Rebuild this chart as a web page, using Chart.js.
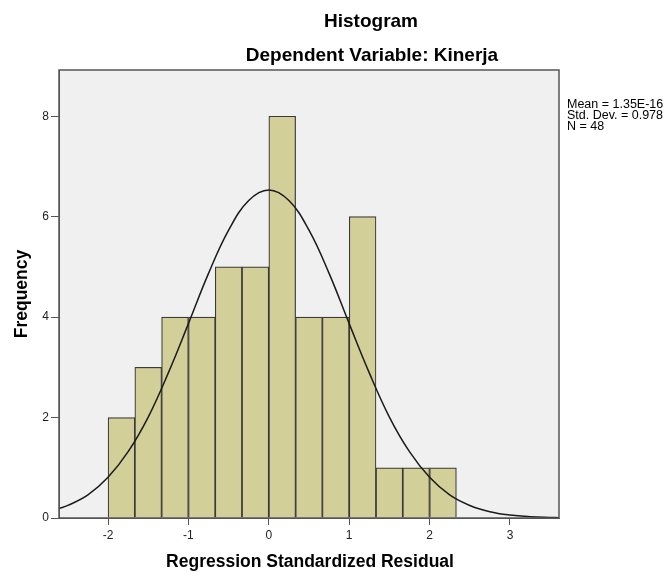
<!DOCTYPE html>
<html>
<head>
<meta charset="utf-8">
<script src="https://cdn.jsdelivr.net/npm/chart.js@4/dist/chart.umd.min.js"></script>
<style>
  html, body { margin: 0; padding: 0; background: #fff; }
  #wrap { width: 669px; height: 572px; }
</style>
</head>
<body>
<div id="wrap"><canvas id="histChart" width="669" height="572"></canvas></div>
<script>
// bins of width 1/3 starting at -2 (centres)
const binCenters = [-1.833, -1.5, -1.167, -0.833, -0.5, -0.167, 0.167, 0.5, 0.833, 1.167, 1.5, 1.833, 2.167];
const frequencies = [2, 3, 4, 4, 5, 5, 8, 4, 4, 6, 1, 1, 1];

// normal curve, values
const curveX = [-2.61, -2.5, -2.25, -2, -1.75, -1.5, -1.25, -1, -0.75, -0.5, -0.25, 0,
  0.25, 0.5, 0.75, 1, 1.25, 1.5, 1.75, 2, 2.25, 2.5, 2.75, 3, 3.25, 3.5, 3.61];
const curveY = [0.19, 0.25, 0.46, 0.81, 1.32, 2.01, 2.89, 3.87, 4.87, 5.73, 6.32, 6.53,
  6.32, 5.73, 4.87, 3.87, 2.89, 2.01, 1.32, 0.81, 0.46, 0.25, 0.125, 0.059, 0.026, 0.011, 0.007];

const xTicks = [-2, -1, 0, 1, 2, 3];
const yTicks = [0, 2, 4, 6, 8];
const statsLines = ["Mean = 1.35E-16", "Std. Dev. = 0.978", "N = 48"];

const FONT = "'Liberation Sans', Arial, sans-serif";

const spssFrame = {
  id: "spssFrame",
  beforeDraw(chart) {
    const a = chart.chartArea, c = chart.ctx;
    c.save();
    c.fillStyle = "#f0f0f0";
    c.fillRect(a.left, a.top, a.right - a.left, a.bottom - a.top);
    c.restore();
  },
  afterDraw(chart) {
    const a = chart.chartArea, c = chart.ctx;
    c.save();
    c.strokeStyle = "#555";
    c.lineWidth = 1.5;
    c.strokeRect(a.left, a.top, a.right - a.left, a.bottom - a.top);

    c.fillStyle = "#000";
    c.textAlign = "center";
    c.textBaseline = "alphabetic";
    c.font = "bold 19px " + FONT;
    c.fillText("Histogram", 371, 27);
    c.fillText("Dependent Variable: Kinerja", 372, 61);

    c.font = "bold 17.5px " + FONT;
    c.fillText("Regression Standardized Residual", 310, 567);
    c.save();
    c.translate(27, 294);
    c.rotate(-Math.PI / 2);
    c.fillText("Frequency", 0, 0);
    c.restore();

    c.textAlign = "left";
    c.font = "12.5px " + FONT;
    statsLines.forEach((t, i) => c.fillText(t, 567, 108 + i * 11));
    c.restore();
  }
};

new Chart(document.getElementById("histChart").getContext("2d"), {
  data: {
    datasets: [
      {
        type: "line",
        data: curveX.map((x, i) => ({ x: x, y: curveY[i] })),
        borderColor: "#1a1a1a",
        borderWidth: 1.5,
        pointRadius: 0,
        tension: 0.4,
        fill: false,
        order: 0,
      },
      {
        type: "bar",
        data: binCenters.map((x, i) => ({ x: x, y: frequencies[i] })),
        backgroundColor: "#d3cf98",
        borderColor: "#3a3a3a",
        borderWidth: 1.2,
        barPercentage: 1,
        categoryPercentage: 1,
        order: 1,
      },
    ],
  },
  options: {
    responsive: false,
    animation: false,
    layout: { padding: { left: 0, top: 70, right: 110, bottom: 0 } },
    plugins: {
      legend: { display: false },
      tooltip: { enabled: false },
    },
    scales: {
      x: {
        type: "linear",
        min: -2.61,
        max: 3.61,
        offset: false,
        afterBuildTicks: (s) => { s.ticks = xTicks.map((v) => ({ value: v })); },
        afterFit: (s) => { s.height = 54; },
        grid: { display: true, offset: false, drawOnChartArea: false, tickLength: 7, color: "#555" },
        border: { display: true, color: "#555" },
        ticks: { color: "#222", font: { family: FONT, size: 12 }, padding: 3, maxRotation: 0 },
      },
      y: {
        min: 0,
        max: 8.92,
        afterBuildTicks: (s) => { s.ticks = yTicks.map((v) => ({ value: v })); },
        afterFit: (s) => { s.width = 59; },
        grid: { display: true, drawOnChartArea: false, tickLength: 8, color: "#555" },
        border: { display: true, color: "#555" },
        ticks: { color: "#222", font: { family: FONT, size: 12 }, padding: 2 },
      },
    },
  },
  plugins: [spssFrame],
});
</script>
</body>
</html>
